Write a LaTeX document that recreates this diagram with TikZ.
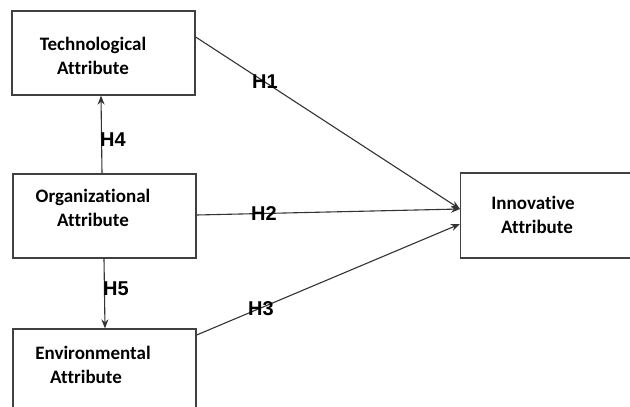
\documentclass[tikz,border=0pt]{standalone}
\usepackage{fontspec}
\setmainfont{Carlito}[Ligatures={NoCommon},BoldFont={Carlito Bold}]
\newfontfamily\hfont{Liberation Sans}[BoldFont={Liberation Sans Bold}]
\usetikzlibrary{arrows.meta}
\begin{document}
\begin{tikzpicture}[x=1pt,y=-1pt,
  boxstyle/.style={draw=black!75,line width=1.3pt,inner sep=0pt},
  txtstyle/.style={font=\fontsize{19}{24}\selectfont\bfseries,align=center,text=black,inner sep=0pt},
  hlab/.style={font=\hfont\bfseries\fontsize{20}{20}\selectfont,inner sep=0pt},
  conn/.style={draw=black!80,line width=1.1pt,-{Stealth[length=9pt,width=7pt]}}]
\useasboundingbox[fill=white] (0,0) rectangle (630,407);
% boxes
\node[boxstyle,minimum width=183pt,minimum height=84pt] (tech) at (103.5,53) {};
\node[boxstyle,minimum width=183pt,minimum height=84pt] (org) at (104.5,216) {};
\node[boxstyle,minimum width=183pt,minimum height=84pt] (env) at (104.5,371) {};
\node[boxstyle,minimum width=190pt,minimum height=85pt,anchor=west] (inn) at (460,215.5) {};
% texts
\node[txtstyle] (techt) at (93,56) {Technological\\Attribute};
\node[txtstyle] (orgt) at (93,208) {Organizational\\Attribute};
\node[txtstyle] (envt) at (93,365) {Environmental\\\hspace*{-14pt}Attribute};
\node[txtstyle] (innt) at (533,215) {Innovative\\\hspace*{8pt}Attribute};
% connectors
\coordinate (t1) at ([yshift=16pt]tech.east);
\coordinate (i1) at ([yshift=6.5pt]inn.west);
\coordinate (i3) at ([yshift=-8.5pt]inn.west);
\draw[conn] (t1) -- (i1);
\draw[conn] ([yshift=1pt]org.east) -- (i1);
\draw[conn] ([yshift=36pt]env.east) -- (i3);
\draw[conn] ([xshift=-2.5pt]org.north) -- ([xshift=-2.5pt]tech.south);
\draw[conn] ([xshift=-0.5pt]org.south) -- ([xshift=0.5pt]env.north);
% labels
\node[hlab] (h1) at (265,82) {H1};
\node[hlab] (h2) at (264,214) {H2};
\node[hlab] (h3) at (261,309) {H3};
\node[hlab] (h4) at (113,140) {H4};
\node[hlab] (h5) at (116,289) {H5};
\end{tikzpicture}
\end{document}
